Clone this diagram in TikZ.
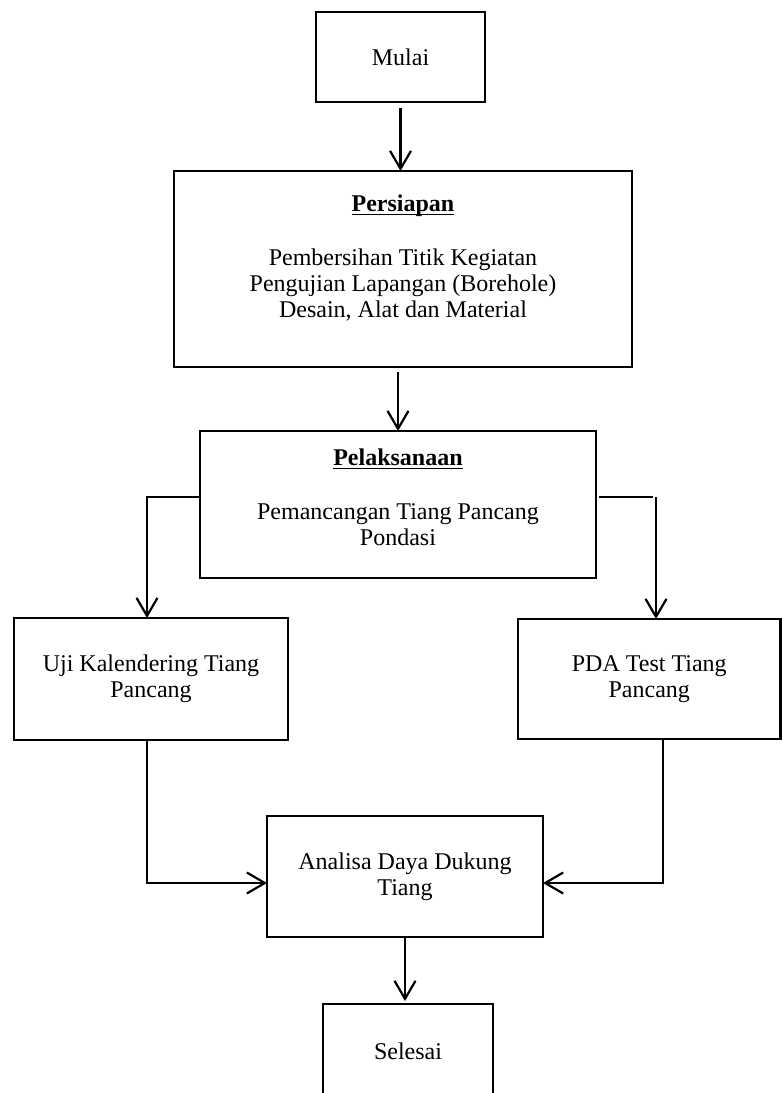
\documentclass[tikz,border=0pt]{standalone}
\usepackage{fontspec}
\setmainfont{Liberation Serif}
\usetikzlibrary{arrows.meta,calc}
\newcommand{\judul}[1]{\setbox0\hbox{\textbf{#1}}\rlap{\rule[-2.2pt]{\wd0}{0.9pt}}\box0}

\begin{document}
\begin{tikzpicture}[x=0.5pt,y=-0.5pt]
	\tikzset{kotak/.style 2 args={draw, line width=1.1pt, inner sep=0pt, outer sep=0pt,
			minimum width=#1, minimum height=#2, align=center, font=\fontsize{12}{13}\selectfont},
		teks/.style={align=center, inner sep=0pt, font=\fontsize{12}{13}\selectfont},
		garis/.style={line width=1.1pt},
		panah/.style={garis, -{Straight Barb[length=9pt,width=10.5pt]}}}
	\clip (0,0) rectangle (782,1093);

	% kotak-kotak
	\node[kotak={84.5pt}{45pt}] (mulai) at (400.5,57) {Mulai};
	\node[kotak={229pt}{98pt}] (persiapan) at (403,269) {};
	\node[teks, anchor=north] (persiapanT) at ([yshift=-11.5pt]persiapan.north)
		{\judul{Persiapan}\\[14pt] Pembersihan Titik Kegiatan\\ Pengujian Lapangan (Borehole)\\ Desain, Alat dan Material};
	\node[kotak={198pt}{73.5pt}] (pelaksanaan) at (398,504.5) {};
	\node[teks, anchor=north] (pelaksanaanT) at ([yshift=-8.5pt]pelaksanaan.north)
		{\judul{Pelaksanaan}\\[14pt] Pemancangan Tiang Pancang\\ Pondasi};
	\node[kotak={137pt}{61pt}] (uji) at (151,679) {Uji Kalendering Tiang\\ Pancang};
	\node[kotak={131.25pt}{60pt}] (pda) at (649.25,679) {PDA Test Tiang\\ Pancang};
	\node[kotak={138pt}{60.5pt}] (analisa) at (405,876.5) {Analisa Daya Dukung\\ Tiang};
	\node[kotak={85pt}{47pt}] (selesai) at (408,1051) {Selesai};

	% titik belok
	\coordinate (kiri) at (147,497);
	\coordinate (kanan) at (656,497);
	\coordinate (kiribawah) at (147,883);
	\coordinate (kananbawah) at (663,883);

	% panah
	\draw[panah] ([yshift=-3pt]mulai.south) -- (mulai.south |- persiapan.north);
	\draw[panah] ($(pelaksanaan.north |- persiapan.south)+(0,5)$) -- (pelaksanaan.north);
	\draw[panah] (pelaksanaan.west |- kiri) -- (kiri) -- (kiri |- uji.north);
	\draw[garis] ($(pelaksanaan.east |- kanan)+(3,0)$) -- ($(kanan)+(-3,0)$);
	\draw[panah] (kanan) -- (kanan |- pda.north);
	\draw[panah] (uji.south -| kiribawah) -- (kiribawah) -- (kiribawah -| analisa.west);
	\draw[panah] (pda.south -| kananbawah) -- (kananbawah) -- (kananbawah -| analisa.east);
	\draw[panah] (analisa.south) -- ($(analisa.south |- selesai.north)+(0,-3)$);
\end{tikzpicture}
\end{document}
